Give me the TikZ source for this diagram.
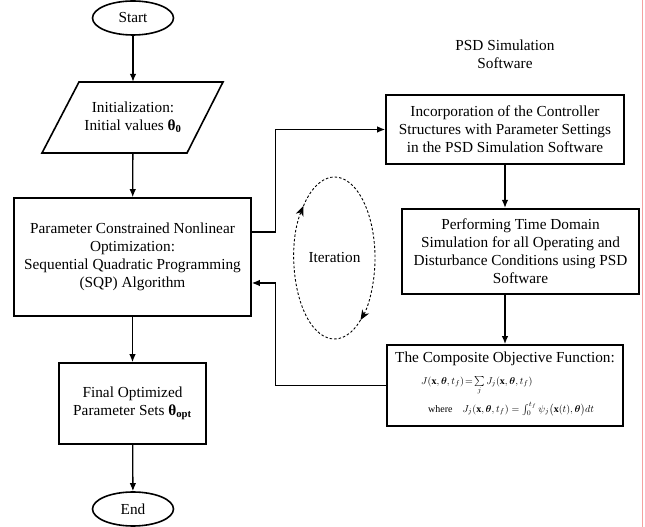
\documentclass[tikz,border=0pt]{standalone}
\usepackage{amsmath,amssymb,bm}
\usepackage{fontspec}
\setmainfont{Liberation Serif}
\usetikzlibrary{shapes.geometric,arrows.meta,calc}
\definecolor{pinkline}{RGB}{244,160,160}
\begin{document}
\begin{tikzpicture}[x=1pt,y=1pt,
  every node/.style={font=\fontsize{15.3}{18}\selectfont, align=center, inner sep=0pt},
  flowbox/.style={draw, line width=1.6pt, rectangle},
  term/.style={draw, line width=1.6pt, ellipse, minimum width=81pt, minimum height=34pt},
  arr/.style={line width=1.3pt, -{Latex[length=8pt,width=6.5pt]}},
  iterarc/.style={line width=0.9pt, dash pattern=on 2.5pt off 2pt, -{Stealth[length=10pt,width=8pt,inset=3pt]}},
  formula/.style={font=\fontsize{10}{11}\selectfont, anchor=west, align=left}
]
\useasboundingbox (0,0) rectangle (645,527);
\fill[white] (0,0) rectangle (645,527);

% left column
\node[term] (start) at (133,509) {Start};
\node[minimum width=145pt, minimum height=71pt] (init) at (133,409.5)
  {Initialization:\\ Initial values \textbf{θ\textsubscript{0}}};
\draw[line width=1.6pt, line join=miter]
  ($(init.center)+(-54,35.5)$) -- ($(init.center)+(90,35.5)$) --
  ($(init.center)+(54,-35.5)$) -- ($(init.center)+(-91,-35.5)$) -- cycle;
\node[flowbox, minimum width=237pt, minimum height=118pt] (sqp) at (132.5,270)
  {Parameter Constrained Nonlinear\\Optimization:\\Sequential Quadratic Programming\\(SQP) Algorithm};
\node[flowbox, minimum width=147pt, minimum height=81pt] (final) at (132.5,123.5)
  {Final Optimized\\Parameter Sets \textbf{θ\textsubscript{opt}}};
\node[term] (end) at (133,18) {End};

% right column
\node (psd) at (505,473) {PSD Simulation\\Software};
\node[flowbox, minimum width=238pt, minimum height=69pt] (box1) at (505,397.5)
  {Incorporation of the Controller\\Structures with Parameter Settings\\in the PSD Simulation Software};
\node[flowbox, line width=2.2pt, minimum width=237pt, minimum height=85pt] (box2) at (520.5,275.5)
  {Performing Time Domain\\Simulation for all Operating and\\Disturbance Conditions using PSD\\Software};
\node[flowbox, line width=1.8pt, minimum width=236pt, minimum height=81pt] (box3) at (505,141.5) {};
\node (objt) at (505,168) {The Composite Objective Function:};
\node[formula] (obj1) at (421,141)
  {$J(\mathbf{x},\boldsymbol{\theta},t_f)\!=\!\sum\limits_j J_j(\mathbf{x},\boldsymbol{\theta},t_f)$};
\node[formula] (obj2) at (428,118)
  {where\quad $J_j(\mathbf{x},\boldsymbol{\theta},t_f)=\int_0^{t_f}\psi_j\big(\mathbf{x}(t),\boldsymbol{\theta}\big)dt$};

% iteration
\node (iter) at (334.5,269) {Iteration};
\draw[iterarc] ([shift={(310:40.5pt and 81pt)}]iter.center)
  arc[start angle=310, end angle=140, x radius=40.5pt, y radius=81pt];
\draw[iterarc] ([shift={(140:40.5pt and 81pt)}]iter.center)
  arc[start angle=140, end angle=-50, x radius=40.5pt, y radius=81pt];

% connectors
\draw[arr] (start) -- (init);
\draw[arr] (init) -- (sqp);
\draw[arr] (sqp) -- (final);
\draw[arr] (final) -- (end);
\draw[arr] ([yshift=25pt]sqp.east) -- ++(24,0) |- (box1.west);
\draw[arr] (box1.south) -- (box1.south |- box2.north);
\draw[arr] (box3.north |- box2.south) -- (box3.north);
\draw[arr] (box3.west) -| ($([yshift=-26pt]sqp.east)+(24,0)$) -- ([yshift=-26pt]sqp.east);

% page edge line
\draw[pinkline, line width=1.2pt] (642.5,0) -- (642.5,527);
\end{tikzpicture}
\end{document}
